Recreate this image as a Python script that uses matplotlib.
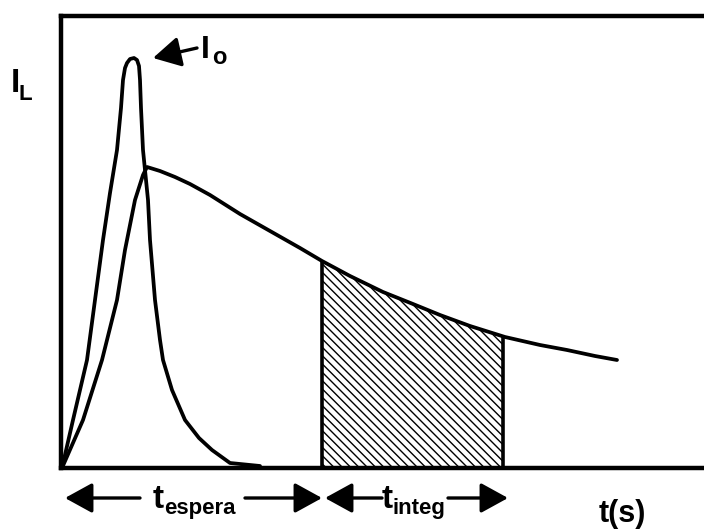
import numpy as np
import matplotlib.pyplot as plt

plt.rcParams['font.family'] = ['Liberation Sans', 'DejaVu Sans']
plt.rcParams['hatch.linewidth'] = 1.0

# pulso de excitacao (pico estreito) - tempo / intensidade em unidades arbitrarias
t_pulso = [0, 11, 25, 33, 41, 48, 55, 59, 61, 63, 65, 68, 72, 75, 77, 78, 79,
           81, 86, 88, 93, 98, 101, 110, 123, 137, 150, 168, 198]
i_pulso = [0, 48, 108, 168, 228, 275, 318, 360, 388, 400, 405, 409, 410, 408,
           402, 388, 360, 318, 268, 228, 168, 128, 108, 78, 48, 30, 18, 5, 2]

# curva de luminescencia (subida + decaimento)
t_lum = [0, 21, 40, 55, 63, 73, 81, 85, 98, 113, 128, 148, 178, 208, 238,
         260, 288, 321, 351, 378, 408, 443, 478, 505, 533, 555]
i_lum = [0, 48, 108, 168, 218, 268, 293, 301, 297, 291, 284, 273, 254, 237,
         220, 207, 192, 176, 164, 153, 142, 131, 123, 118, 112, 108]

t_espera_fim = 260   # fim do tempo de espera
t_integ_fim = 441    # fim do tempo de integracao
pico_t, pico_i = 72, 410

fig = plt.figure(figsize=(7.04, 5.30), dpi=100)
# 1 unidade = 1 pixel
ax = fig.add_axes([61 / 704, 62 / 530, 663 / 704, 452 / 530])
ax.set_xlim(-1, 662)
ax.set_ylim(0, 452)
ax.spines['right'].set_visible(False)
for s in ['left', 'top', 'bottom']:
    ax.spines[s].set_linewidth(3.2)
ax.set_xticks([])
ax.set_yticks([])

kw = dict(color='black', lw=2.7, solid_joinstyle='round', solid_capstyle='round')
ax.plot(t_pulso, i_pulso, **kw)

# area integrada (hachurada)
tt = np.linspace(t_espera_fim, t_integ_fim, 100)
ii = np.interp(tt, t_lum, i_lum)
ax.fill_between(tt, 0, ii, facecolor='white', edgecolor='black',
                hatch='\\\\\\\\', lw=0)
ax.vlines([t_espera_fim, t_integ_fim], 0,
          np.interp([t_espera_fim, t_integ_fim], t_lum, i_lum),
          color='black', lw=2.6)
ax.plot(t_lum, i_lum, **kw)

seta = dict(arrowstyle='-|>,head_length=0.4,head_width=0.22', color='black',
            lw=2.4, mutation_scale=42, shrinkA=0, shrinkB=0)


def rotulo(x, y, base, sub, transform=None, fs=24, fs_sub=16):
    # letra principal + subscrito em fonte menor
    kw_t = dict(fontweight='bold', va='baseline', ha='left', clip_on=False)
    if transform is None:
        ax.text(x, y, base, fontsize=fs, **kw_t)
        ax.text(x + 11, y - 6, sub, fontsize=fs_sub, **kw_t)
    else:
        fig.text(x, y, base, fontsize=fs, **kw_t)
        fig.text(x + 8 / 704, y - 8 / 530, sub, fontsize=fs_sub, **kw_t)


y_seta = -30
# t espera
ax.annotate('', xy=(3, y_seta), xytext=(78, y_seta), arrowprops=seta,
            annotation_clip=False)
ax.annotate('', xy=(t_espera_fim, y_seta), xytext=(183, y_seta),
            arrowprops=seta, annotation_clip=False)
rotulo(t_espera_fim / 2 - 39, -40, 't', 'espera')
# t integ
ax.annotate('', xy=(t_espera_fim + 3, y_seta), xytext=(320, y_seta),
            arrowprops=seta, annotation_clip=False)
ax.annotate('', xy=(t_integ_fim + 5, y_seta), xytext=(386, y_seta),
            arrowprops=seta, annotation_clip=False)
rotulo((t_espera_fim + t_integ_fim) / 2 - 31, -40, 't', 'integ')

ax.text(560, -54, 't(s)', fontsize=22, fontweight='bold', ha='center',
        va='baseline', clip_on=False)

# I_o
ax.annotate('', xy=(pico_t + 19, pico_i), xytext=(pico_t + 63, pico_i + 10),
            arrowprops=seta, annotation_clip=False)
rotulo(pico_t + 67, pico_i, 'I', 'o', fs=23, fs_sub=17)

rotulo(11 / 704, 1 - 92 / 530, 'I', 'L', transform='fig', fs=24, fs_sub=16)

fig.savefig('out.png', dpi=100)
